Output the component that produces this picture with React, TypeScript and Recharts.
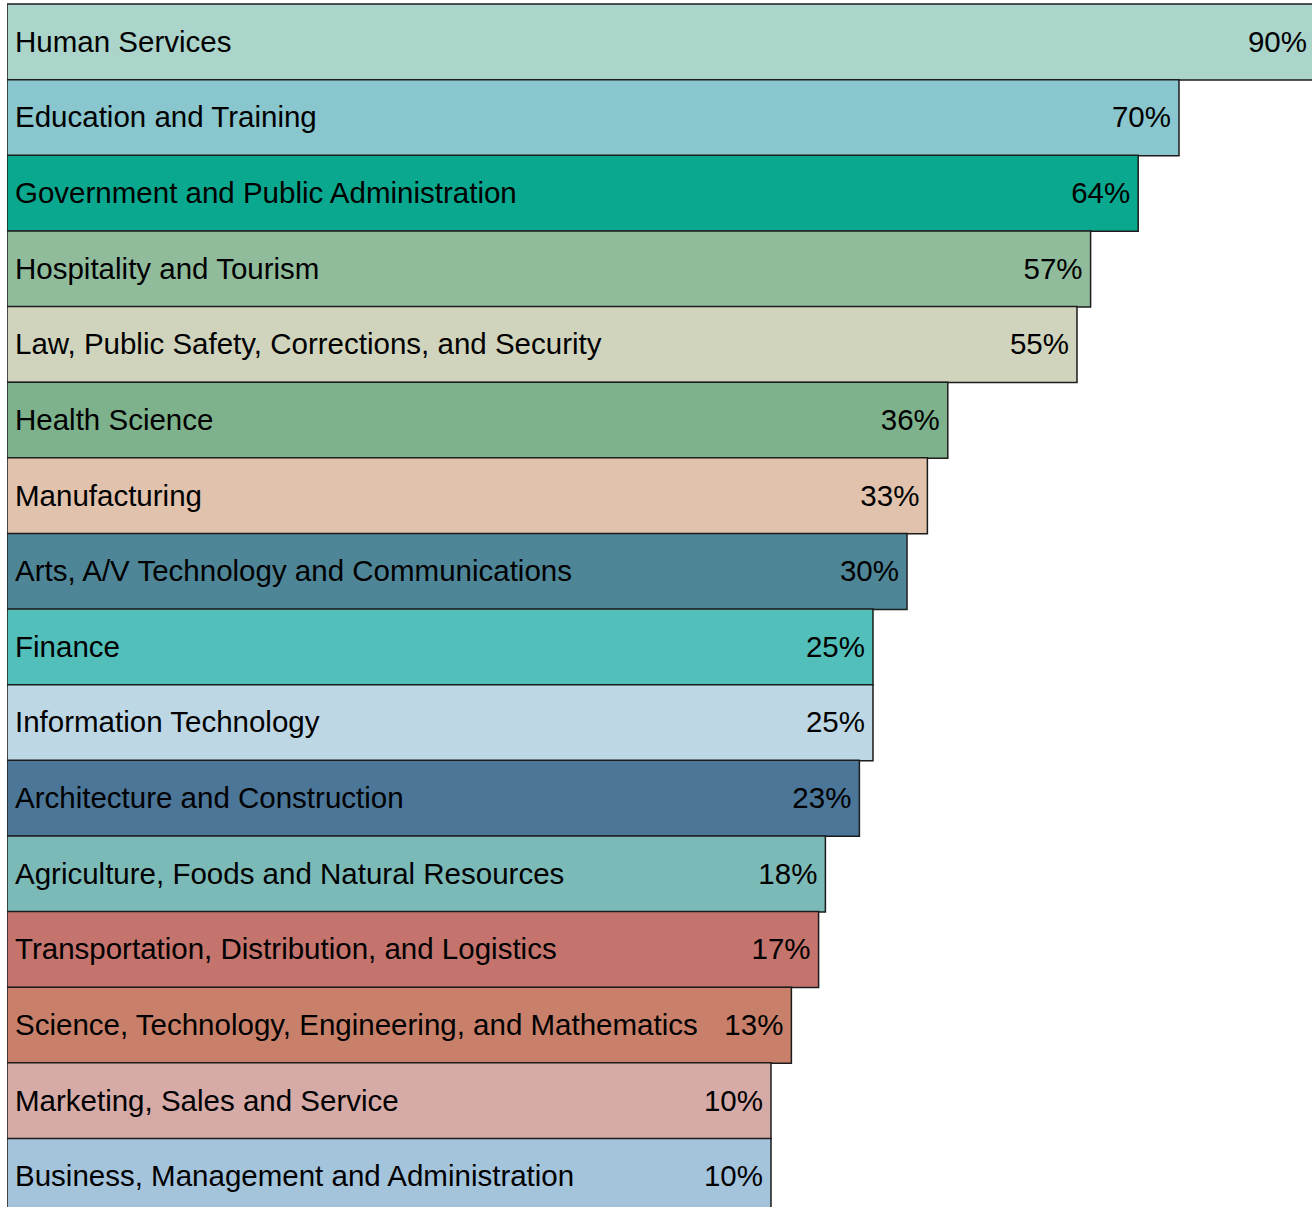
import React from 'react';
import { BarChart, Bar, XAxis, YAxis, Cell, LabelList } from 'recharts';

const clusters = [
  'Human Services',
  'Education and Training',
  'Government and Public Administration',
  'Hospitality and Tourism',
  'Law, Public Safety, Corrections, and Security',
  'Health Science',
  'Manufacturing',
  'Arts, A/V Technology and Communications',
  'Finance',
  'Information Technology',
  'Architecture and Construction',
  'Agriculture, Foods and Natural Resources',
  'Transportation, Distribution, and Logistics',
  'Science, Technology, Engineering, and Mathematics',
  'Marketing, Sales and Service',
  'Business, Management and Administration',
];

const percents = [90, 70, 64, 57, 55, 36, 33, 30, 25, 25, 23, 18, 17, 13, 10, 10];

const barColors = [
  '#abd4cb', '#8ac6cd', '#0aa88e', '#90bc9c', '#d0d4bd', '#7db28c', '#e0c2ad', '#4e8698',
  '#52bfbb', '#bed7e4', '#4b7698', '#7cbab8', '#c4746c', '#c9806a', '#d6aaa6', '#a4c4dc',
];

// bars start left of zero; the top bar runs past the right edge
const AXIS_MIN = -102.35;
const AXIS_MAX = 89.56;

const FONT = '"Liberation Sans", Arial, sans-serif';
const FONT_SIZE = 29.5;

const data = clusters.map((name, i) => ({ name, pct: percents[i] }));

let ctx: CanvasRenderingContext2D | null = null;
const measure = (txt: string) => {
  if (!ctx) ctx = document.createElement('canvas').getContext('2d');
  if (!ctx) return txt.length * FONT_SIZE * 0.5;
  ctx.font = `${FONT_SIZE}px ${FONT}`;
  return ctx.measureText(txt).width;
};

const NameLabel = (props: any) => {
  const { x, y, width, height, value } = props;
  const avail = width - 100;
  const squeeze = measure(String(value)) > avail;
  return (
    <text
      x={x + 8}
      y={y + height / 2 - 0.5}
      dy="0.35em"
      fill="#000"
      fontSize={FONT_SIZE}
      fontFamily={FONT}
      textLength={squeeze ? avail : undefined}
      lengthAdjust={squeeze ? 'spacingAndGlyphs' : undefined}
    >
      {value}
    </text>
  );
};

const ValueLabel = (props: any) => {
  const { x, y, width, height, value } = props;
  return (
    <text
      x={x + width - 8}
      y={y + height / 2 - 0.5}
      dy="0.35em"
      textAnchor="end"
      fill="#000"
      fontSize={FONT_SIZE}
      fontFamily={FONT}
    >
      {value}%
    </text>
  );
};

export default function App() {
  return (
    <div style={{ position: 'absolute', left: 0, top: 0, width: 1312, height: 1207, overflow: 'hidden', background: '#fff' }}>
      <BarChart
        width={1312}
        height={1220}
        data={data}
        layout="vertical"
        margin={{ top: 4, right: 0, bottom: 6, left: 7 }}
        barCategoryGap={0}
      >
        <XAxis type="number" domain={[AXIS_MIN, AXIS_MAX]} hide allowDataOverflow />
        <YAxis type="category" dataKey="name" hide />
        <Bar
          dataKey={(d: any) => [AXIS_MIN, d.pct]}
          stroke="#1c1c1c"
          strokeWidth={1.5}
          isAnimationActive={false}
        >
          {data.map((d, i) => (
            <Cell key={d.name} fill={barColors[i]} />
          ))}
          <LabelList dataKey="name" content={NameLabel} />
          <LabelList dataKey="pct" content={ValueLabel} />
        </Bar>
      </BarChart>
    </div>
  );
}
